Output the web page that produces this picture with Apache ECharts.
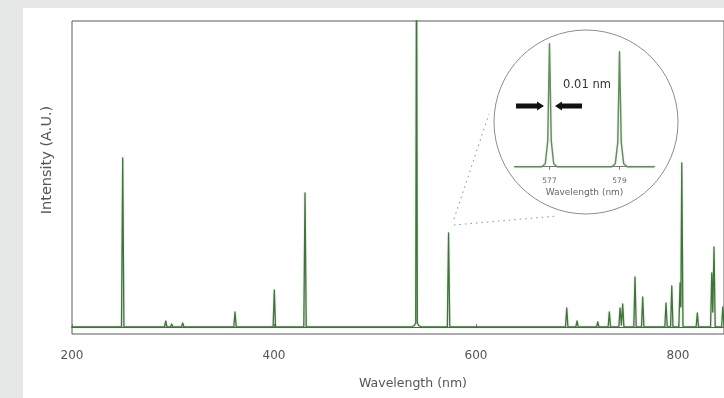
<!DOCTYPE html>
<html>
<head>
<meta charset="utf-8">
<script src="https://cdn.jsdelivr.net/npm/echarts@6/dist/echarts.min.js"></script>
<style>
  html, body { margin: 0; padding: 0; background: #e6e7e7; }
  #panel { position: absolute; left: 23px; top: 8px; width: 701px; height: 390px; background: #ffffff; }
  #chart { position: absolute; left: 0; top: 0; width: 724px; height: 398px; }
</style>
</head>
<body>
<div id="panel"></div>
<div id="chart"></div>
<script>
// ---- Data (intensity in arbitrary units) ----
const xTickInterval = 200;
const xMin = 200;
const xMax = 845.5;
const xAxisTitle = 'Wavelength (nm)';
const yAxisTitle = 'Intensity (A.U.)';

// main spectrum: [wavelength nm, intensity]
const mainSpectrum = [
  [200, 0],
  [249.0, 0], [250.2, 169], [251.4, 0],
  [291.6, 0], [292.8, 6], [294.0, 0],
  [297.5, 0], [298.7, 3], [299.9, 0],
  [308.4, 0], [309.6, 4], [310.8, 0],
  [360.2, 0], [361.4, 15], [362.6, 0],
  [399.1, 0], [400.3, 37], [401.5, 0],
  [429.5, 0], [430.7, 134], [431.9, 0],
  [536.0, 0], [539.0, 1.5], [540.3, 4], [541.1, 400], [541.9, 4], [543.2, 1.5], [546.0, 0],
  [571.6, 0], [572.8, 94], [574.0, 0],
  [688.6, 0], [689.8, 19], [691.0, 0],
  [698.8, 0], [700.0, 6], [701.2, 0],
  [719.3, 0], [720.5, 5], [721.7, 0],
  [730.8, 0], [732.0, 15], [733.2, 0],
  [741.4, 0], [742.6, 19], [743.9, 2], [745.2, 23], [746.4, 0],
  [756.2, 0], [757.4, 50], [758.6, 0],
  [763.8, 0], [765.0, 30], [766.2, 0],
  [786.9, 0], [788.1, 24], [789.3, 0],
  [792.6, 0], [793.8, 41], [795.0, 0],
  [800.8, 0], [802.0, 44], [802.8, 20], [803.7, 164], [804.9, 0],
  [817.9, 0], [819.1, 14], [820.3, 0],
  [832.2, 0], [833.4, 54], [834.4, 15], [835.6, 80], [836.8, 0],
  [843.1, 0], [844.3, 20], [845.5, 0]
];

// inset: zoom on the 577 / 579 nm doublet
const insetTicks = [577, 579];
const insetMin = 576;
const insetMax = 580;
const insetSpectrum = [
  [576, 0],
  [576.78, 0], [576.88, 3], [576.95, 26], [577.00, 123], [577.05, 26], [577.12, 3], [577.22, 0],
  [578.78, 0], [578.88, 3], [578.95, 24], [579.00, 115], [579.05, 24], [579.12, 3], [579.22, 0],
  [580, 0]
];
const insetNote = '0.01 nm';

// ---- Chart ----
const chart = echarts.init(document.getElementById('chart'), null, { renderer: 'canvas' });
const FONT = '"DejaVu Sans", "Liberation Sans", sans-serif';
const green = '#3e7638';
const greyLine = '#8c8c8c';

const option = {
  backgroundColor: 'transparent',
  animation: false,
  grid: [
    { left: 72, top: 21, right: 0, bottom: 64, show: true, borderColor: '#5a5a5a', borderWidth: 1, backgroundColor: 'transparent', containLabel: false },
    { left: 514.5, top: 40, width: 140, height: 133.3, show: false }
  ],
  xAxis: [
    {
      type: 'value', gridIndex: 0, min: xMin, max: xMax, interval: xTickInterval,
      name: xAxisTitle, nameLocation: 'middle', nameGap: 43,
      nameTextStyle: { fontFamily: FONT, fontSize: 12.5, color: '#555', padding: [0, 0, 0, 30] },
      axisLine: { show: true, lineStyle: { color: '#5a5a5a', width: 1 } },
      axisTick: { show: true, inside: true, length: 3, lineStyle: { color: '#777' } },
      axisLabel: { margin: 16, fontFamily: FONT, fontSize: 12, color: '#555', showMaxLabel: false },
      splitLine: { show: false }
    },
    {
      type: 'value', gridIndex: 1, min: insetMin, max: insetMax,
      name: xAxisTitle, nameLocation: 'middle', nameGap: 15,
      nameTextStyle: { fontFamily: FONT, fontSize: 9, color: '#666' },
      axisLine: { show: true, lineStyle: { color: '#777', width: 1 } },
      axisTick: { show: true, length: 3, customValues: insetTicks, lineStyle: { color: '#777' } },
      axisLabel: { margin: 4, fontFamily: FONT, fontSize: 7.5, color: '#666', customValues: insetTicks },
      splitLine: { show: false }
    }
  ],
  yAxis: [
    {
      type: 'value', gridIndex: 0, min: -7, max: 306,
      axisLine: { show: false }, axisTick: { show: false }, axisLabel: { show: false }, splitLine: { show: false }
    },
    {
      type: 'value', gridIndex: 1, min: -6.6, max: 126.7,
      axisLine: { show: false }, axisTick: { show: false }, axisLabel: { show: false }, splitLine: { show: false }
    }
  ],
  series: [
    {
      type: 'line', xAxisIndex: 0, yAxisIndex: 0, data: mainSpectrum,
      showSymbol: false, symbol: 'none', clip: true,
      lineStyle: { color: green, width: 1.3, join: 'round', cap: 'round', shadowColor: 'rgba(120,120,120,0.35)', shadowBlur: 2 },
      z: 3
    },
    {
      type: 'line', xAxisIndex: 1, yAxisIndex: 1, data: insetSpectrum,
      showSymbol: false, symbol: 'none', clip: true,
      lineStyle: { color: '#5f8f58', width: 1.4, join: 'round', shadowColor: 'rgba(120,120,120,0.3)', shadowBlur: 2 },
      z: 4
    }
  ],
  graphic: [
    { type: 'text', rotation: Math.PI / 2, x: 47, y: 160,
      style: { text: yAxisTitle, fontFamily: FONT, fontSize: 14.5, fill: '#555', align: 'center', verticalAlign: 'middle' } },
    { type: 'circle', shape: { cx: 586, cy: 122, r: 92 }, style: { fill: 'none', stroke: greyLine, lineWidth: 1 }, z: 1 },
    { type: 'line', shape: { x1: 454, y1: 219, x2: 489, y2: 114 }, style: { stroke: greyLine, lineWidth: 1, lineDash: [1.5, 4] }, z: 1 },
    { type: 'line', shape: { x1: 454, y1: 225, x2: 557, y2: 216 }, style: { stroke: greyLine, lineWidth: 1, lineDash: [1.5, 4] }, z: 1 },
    { type: 'text', x: 587, y: 85, style: { text: insetNote, fontFamily: FONT, fontSize: 11.5, fill: '#333', align: 'center', verticalAlign: 'middle' }, z: 5 },
    { type: 'polygon', shape: { points: [[516,103.5],[537,103.5],[537,101.5],[544,106],[537,110.5],[537,108.5],[516,108.5]] }, style: { fill: '#111' }, z: 5 },
    { type: 'polygon', shape: { points: [[555,106],[562,101.5],[562,103.5],[582,103.5],[582,108.5],[562,108.5],[562,110.5]] }, style: { fill: '#111' }, z: 5 }
  ]
};
chart.setOption(option);
</script>
</body>
</html>
